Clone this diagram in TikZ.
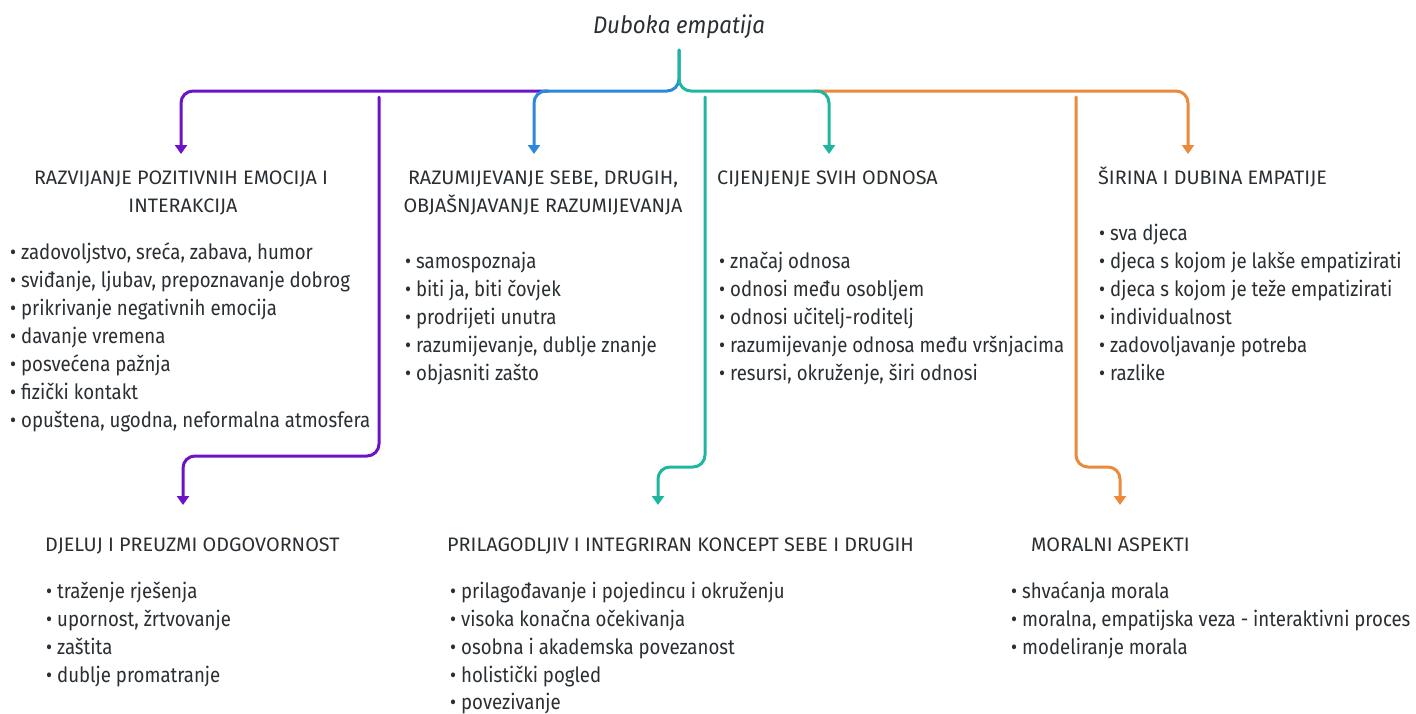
\documentclass[tikz,border=0pt]{standalone}
\usepackage{fontspec}
\setmainfont{Fira Sans}
\usepackage{graphicx}
\usetikzlibrary{arrows.meta}
\definecolor{cpurple}{HTML}{6C12C9}
\definecolor{cblue}{HTML}{2C88DC}
\definecolor{cteal}{HTML}{1FB6A0}
\definecolor{corange}{HTML}{EB8A3B}
\definecolor{ctext}{HTML}{2A2F33}
\newlength\mylen
\newcommand\bodyfont{\fontsize{21}{25}\selectfont}
\newcommand\headfont{\fontsize{19.5}{23}\selectfont}
\newcommand\titlefont{\fontsize{24}{28}\selectfont\itshape}
\newcommand\bi[1]{\scalebox{\bfac}[1]{\textbullet\ #1}}
\newcommand\hd[1]{\scalebox{\hfac}[1]{#1}}
\begin{document}
\settowidth\mylen{\bodyfont opuštena, ugodna, neformalna atmosfera}%
\pgfmathsetmacro\bfac{349/\mylen}%
\settowidth\mylen{\headfont RAZVIJANJE POZITIVNIH EMOCIJA I}%
\pgfmathsetmacro\hfac{294/\mylen}%
\settowidth\mylen{\titlefont Duboka empatija}%
\pgfmathsetmacro\tfac{172/\mylen}%
\begin{tikzpicture}[x=1pt,y=-1pt,
  conn/.style={line width=3pt, rounded corners=12pt, line cap=round},
  tip/.style={-{Triangle[width=12pt,length=9pt]}},
  itemtext/.style={anchor=base west, inner sep=0pt, font=\bodyfont, text=ctext},
  headtext/.style={anchor=base west, inner sep=0pt, font=\headfont, text=ctext},
  headc/.style={anchor=base, inner sep=0pt, font=\headfont, text=ctext}]
\fill[white] (0,0) rectangle (1416,713);
\useasboundingbox (0,0) rectangle (1416,713);

% title
\node[anchor=base, inner sep=0pt, font=\titlefont, text=ctext] (title) at (679,33) {\scalebox{\tfac}[1]{Duboka empatija}};

% connector coordinates
\coordinate (stem) at (679,50);
\coordinate (split) at (679,91);
\coordinate (tA) at (181,154);
\coordinate (tB) at (534,154);
\coordinate (tC) at (829,154);
\coordinate (tD) at (1188,154);
\coordinate (sE) at (379,97);
\coordinate (tE) at (183,505);
\coordinate (sF) at (705,97);
\coordinate (tF) at (658,505);
\coordinate (sG) at (1076,97);
\coordinate (tG) at (1120,505);

% top branches
\draw[conn, cpurple, tip] (548,91) -- (tA |- split) -- (tA);
\draw[conn, cblue, tip] (stem) -- (split) -- (tB |- split) -- (tB);
\draw[conn, corange, tip] (814,91) -- (tD |- split) -- (tD);
\draw[conn, cteal, tip] (stem) -- (split) -- (tC |- split) -- (tC);

% lower branches
\draw[conn, cpurple, tip] (sE) -- (379,456) -- (183,456) -- (tE);
\draw[conn, cteal, tip] (sF) -- (705,467) -- (658,467) -- (tF);
\draw[conn, corange, tip] (sG) -- (1076,467) -- (1120,467) -- (tG);

% column 1
\node[headc] (h1a) at (181,184) {\hd{RAZVIJANJE POZITIVNIH EMOCIJA I}};
\node[headc] (h1b) at (183,212) {\hd{INTERAKCIJA}};
\node[itemtext] (a1) at (10,259) {\bi{zadovoljstvo, sreća, zabava, humor}};
\node[itemtext] (a2) at (10,287) {\bi{sviđanje, ljubav, prepoznavanje dobrog}};
\node[itemtext] (a3) at (10,315) {\bi{prikrivanje negativnih emocija}};
\node[itemtext] (a4) at (10,343) {\bi{davanje vremena}};
\node[itemtext] (a5) at (10,371) {\bi{posvećena pažnja}};
\node[itemtext] (a6) at (10,399) {\bi{fizički kontakt}};
\node[itemtext] (a7) at (10,427) {\bi{opuštena, ugodna, neformalna atmosfera}};

% column 2
\node[headc] (h2a) at (543,184) {\hd{RAZUMIJEVANJE SEBE, DRUGIH,}};
\node[headc] (h2b) at (543,212) {\hd{OBJAŠNJAVANJE RAZUMIJEVANJA}};
\node[itemtext] (b1) at (405,268) {\bi{samospoznaja}};
\node[itemtext] (b2) at (405,296) {\bi{biti ja, biti čovjek}};
\node[itemtext] (b3) at (405,324) {\bi{prodrijeti unutra}};
\node[itemtext] (b4) at (405,352) {\bi{razumijevanje, dublje znanje}};
\node[itemtext] (b5) at (405,380) {\bi{objasniti zašto}};

% column 3
\node[headtext] (h3) at (717,184) {\hd{CIJENJENJE SVIH ODNOSA}};
\node[itemtext] (c1) at (719,268) {\bi{značaj odnosa}};
\node[itemtext] (c2) at (719,296) {\bi{odnosi među osobljem}};
\node[itemtext] (c3) at (719,324) {\bi{odnosi učitelj-roditelj}};
\node[itemtext] (c4) at (719,352) {\bi{razumijevanje odnosa među vršnjacima}};
\node[itemtext] (c5) at (719,380) {\bi{resursi, okruženje, širi odnosi}};

% column 4
\node[headtext] (h4) at (1098,184) {\hd{ŠIRINA I DUBINA EMPATIJE}};
\node[itemtext] (d1) at (1099,240) {\bi{sva djeca}};
\node[itemtext] (d2) at (1099,268) {\bi{djeca s kojom je lakše empatizirati}};
\node[itemtext] (d3) at (1099,296) {\bi{djeca s kojom je teže empatizirati}};
\node[itemtext] (d4) at (1099,324) {\bi{individualnost}};
\node[itemtext] (d5) at (1099,352) {\bi{zadovoljavanje potreba}};
\node[itemtext] (d6) at (1099,380) {\bi{razlike}};

% bottom left
\node[headtext] (h5) at (45,551) {\hd{DJELUJ I PREUZMI ODGOVORNOST}};
\node[itemtext] (e1) at (46,598) {\bi{traženje rješenja}};
\node[itemtext] (e2) at (46,626) {\bi{upornost, žrtvovanje}};
\node[itemtext] (e3) at (46,654) {\bi{zaštita}};
\node[itemtext] (e4) at (46,682) {\bi{dublje promatranje}};

% bottom middle
\node[headtext] (h6) at (447,551) {\hd{PRILAGODLJIV I INTEGRIRAN KONCEPT SEBE I DRUGIH}};
\node[itemtext] (f1) at (450,598) {\bi{prilagođavanje i pojedincu i okruženju}};
\node[itemtext] (f2) at (450,626) {\bi{visoka konačna očekivanja}};
\node[itemtext] (f3) at (450,654) {\bi{osobna i akademska povezanost}};
\node[itemtext] (f4) at (450,682) {\bi{holistički pogled}};
\node[itemtext] (f5) at (450,709) {\bi{povezivanje}};

% bottom right
\node[headtext] (h7) at (1031,551) {\hd{MORALNI ASPEKTI}};
\node[itemtext] (g1) at (1011,598) {\bi{shvaćanja morala}};
\node[itemtext] (g2) at (1011,626) {\bi{moralna, empatijska veza - interaktivni proces}};
\node[itemtext] (g3) at (1011,654) {\bi{modeliranje morala}};
\end{tikzpicture}
\end{document}
